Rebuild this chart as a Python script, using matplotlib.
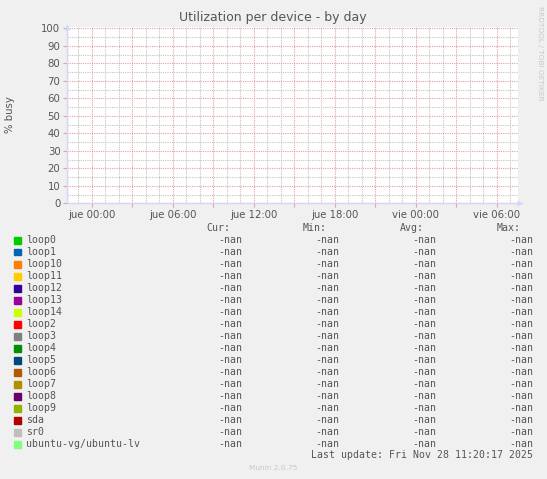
import matplotlib
matplotlib.use("Agg")
import matplotlib.pyplot as plt
from matplotlib.ticker import MultipleLocator

# device series (no data collected -> every summary is "-nan")
devices = ["loop0", "loop1", "loop10", "loop11", "loop12", "loop13", "loop14",
           "loop2", "loop3", "loop4", "loop5", "loop6", "loop7", "loop8",
           "loop9", "sda", "sr0", "ubuntu-vg/ubuntu-lv"]
colors = ["#00CC00", "#0066B3", "#FF8000", "#FFCC00", "#330099", "#990099",
          "#CCFF00", "#FF0000", "#808080", "#008F00", "#00487D", "#B35A00",
          "#B38F00", "#6B006B", "#8FB300", "#B30000", "#BEBEBE", "#80FF80"]
cur = ["-nan"] * len(devices)
vmin = ["-nan"] * len(devices)
vavg = ["-nan"] * len(devices)
vmax = ["-nan"] * len(devices)
series = {d: ([], []) for d in devices}  # empty samples

tick_hours = [0, 6, 12, 18, 24, 30]
tick_labels = ["jue 00:00", "jue 06:00", "jue 12:00", "jue 18:00",
               "vie 00:00", "vie 06:00"]
x_range = (-1.85, 31.56)
y_range = (0, 101)

W, H = 547, 479
BG = "#F0F0F0"
FONT = "#555555"
AXIS = "#CFD6F8"
GRID = "#c4c4c4"
MGRID = "#e6a0a0"

fig = plt.figure(figsize=(W / 100, H / 100), dpi=100, facecolor=BG)


def px(x, y):
    return x / W, 1 - y / H


left, top, right, bottom = 66.7, 26.5, 517.7, 203.3
ax = fig.add_axes([left / W, 1 - bottom / H, (right - left) / W, (bottom - top) / H])
ax.set_facecolor("white")

for d, c in zip(devices, colors):
    xs, ys = series[d]
    ax.plot(xs, ys, color=c, lw=1)

ax.set_xlim(*x_range)
ax.set_ylim(*y_range)

ax.set_yticks(range(0, 101, 10))
ax.set_yticklabels([str(v) for v in range(0, 101, 10)])
ax.set_yticks(range(5, 101, 10), minor=True)

# major (red) every 3 h, labels every 6 h, minor (grey) every hour
major_x = list(range(0, 32, 3))
ax.set_xticks(major_x)
ax.set_xticklabels([tick_labels[tick_hours.index(h)] if h in tick_hours else ""
                    for h in major_x])
ax.set_xticks([h for h in range(-1, 32) if h % 3], minor=True)

ax.grid(which="minor", color=GRID, ls=(0, (1, 1)), lw=0.8)
ax.grid(which="major", color=MGRID, ls=(0, (1, 1)), lw=0.8)
ax.set_axisbelow(True)

ax.tick_params(axis="x", which="major", length=3, color=MGRID, labelsize=7.3,
               labelcolor=FONT, pad=2)
ax.tick_params(axis="y", which="major", length=3, color=MGRID, labelsize=7.3,
               labelcolor=FONT, pad=1.5)
ax.tick_params(which="minor", length=0)

for s in ["top", "right"]:
    ax.spines[s].set_visible(False)
for s in ["left", "bottom"]:
    ax.spines[s].set_color(AXIS)
    ax.spines[s].set_linewidth(1)

# axis arrows
ax.plot([0], [1.0], marker="^", ms=5, color=AXIS, transform=ax.transAxes,
        clip_on=False, mec="none")
ax.plot([1.005], [0], marker=">", ms=5, color=AXIS, transform=ax.transAxes,
        clip_on=False, mec="none")

fig.text(*px(273, 18), "Utilization per device - by day", ha="center",
         va="center", fontsize=9, color=FONT)
fig.text(*px(10, 115), "% busy", ha="center", va="center", rotation=90,
         fontsize=7.3, color=FONT)
fig.text(*px(540, 53), "RRDTOOL / TOBI OETIKER", ha="center", va="center",
         rotation=270, fontsize=5.3, color="#c8c8c8")

mono = "DejaVu Sans Mono"
fs = 7.1
col_right = [242, 339, 436, 533]
headers = ["Cur:", "Min:", "Avg:", "Max:"]
for xr, h in zip(col_right, headers):
    fig.text(*px(xr - 12, 228), h, ha="right", va="center", family=mono,
             fontsize=fs, color=FONT)

row0, step = 240, 12
for i, (d, c) in enumerate(zip(devices, colors)):
    y = row0 + i * step
    fig.patches.append(plt.Rectangle(px(14, y + 3.5), 6.5 / W, 6.5 / H,
                                     transform=fig.transFigure, color=c))
    fig.text(*px(26, y), d, ha="left", va="center", family=mono,
             fontsize=fs, color=FONT)
    for xr, vals in zip(col_right, [cur, vmin, vavg, vmax]):
        fig.text(*px(xr, y), vals[i], ha="right", va="center", family=mono,
                 fontsize=fs, color=FONT)

fig.text(*px(533, 455), "Last update: Fri Nov 28 11:20:17 2025", ha="right",
         va="center", family=mono, fontsize=fs, color=FONT)
fig.text(*px(273, 468), "Munin 2.0.75", ha="center", va="center",
         fontsize=5.3, color="#c8c8c8")

fig.savefig("out.png", dpi=100, facecolor=BG)
